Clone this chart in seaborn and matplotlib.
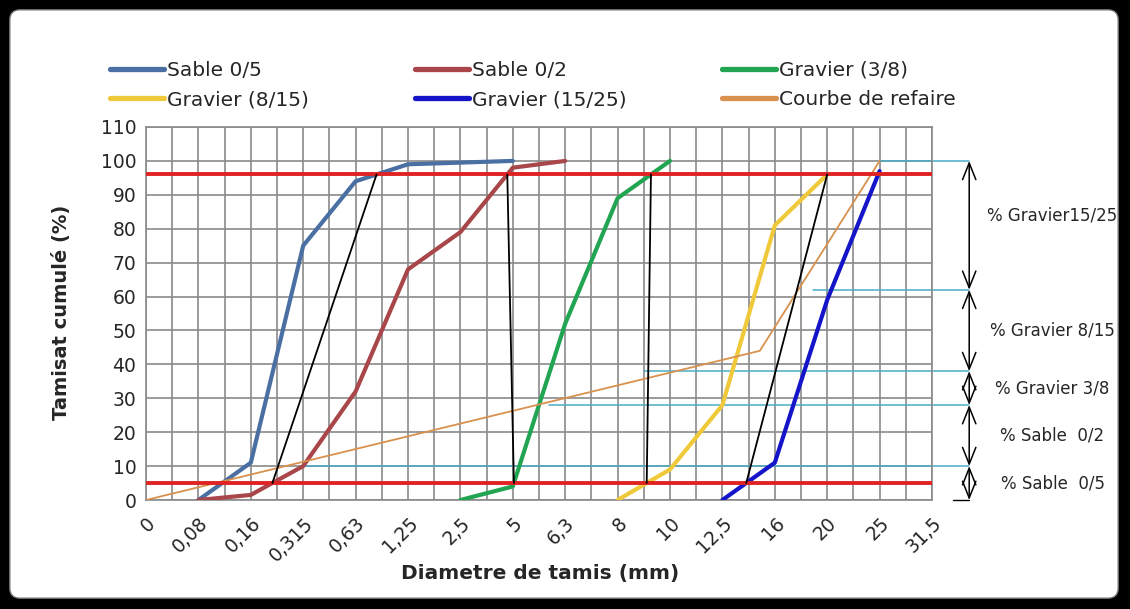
import numpy as np
import pandas as pd
import seaborn as sns
import matplotlib.pyplot as plt
from matplotlib.lines import Line2D
from matplotlib.patches import FancyBboxPatch

# sieve openings (mm) - equally spaced on the x axis
sieves_mm = [0, 0.08, 0.16, 0.315, 0.63, 1.25, 2.5, 5, 6.3, 8, 10, 12.5, 16, 20, 25, 31.5]
sieve_labels = ['0', '0,08', '0,16', '0,315', '0,63', '1,25', '2,5', '5', '6,3',
                '8', '10', '12,5', '16', '20', '25', '31,5']

# cumulative passing (%) per material
sable05_mm = [0.08, 0.16, 0.315, 0.63, 1.25, 2.5, 5]
sable05 = [0, 11, 75, 94, 99, 99.5, 100]
sable02_mm = [0.08, 0.16, 0.315, 0.63, 1.25, 2.5, 5, 6.3]
sable02 = [0, 1.5, 10, 32, 68, 79, 98, 100]
g38_mm = [2.5, 5, 6.3, 8, 10]
g38 = [0, 4, 52, 89, 100]
g815_mm = [8, 10, 12.5, 16, 20]
g815 = [0, 9, 28, 81, 96]
g1525_mm = [12.5, 16, 20, 25]
g1525 = [0, 11, 59, 97]
courbe_mm = [0, 15, 25]
courbe = [0, 44, 100]

limits = [5, 96]
cut_levels = [10, 28, 38, 62, 100]
cut_from_mm = [0.315, 5.9, 9, 18.9, 25]
part_labels = ['% Sable  0/5', '% Sable  0/2', '% Gravier 3/8',
               '% Gravier 8/15', '% Gravier15/25']
part_label_y = [5, 19, 33, 50, 84]

names = ['Sable 0/5', 'Sable 0/2', 'Gravier (3/8)', 'Gravier (8/15)',
         'Gravier (15/25)', 'Courbe de refaire']
colors = {'Sable 0/5': '#4a6fa3', 'Sable 0/2': '#a9464a', 'Gravier (3/8)': '#22a552',
          'Gravier (8/15)': '#f0c93a', 'Gravier (15/25)': '#1414c8',
          'Courbe de refaire': '#d9914e'}
widths = {n: 3.0 for n in names}
widths['Courbe de refaire'] = 1.3


def pos(mm):
    return np.interp(mm, sieves_mm, np.arange(len(sieves_mm)))


def cross(mm, vals, level):
    return float(np.interp(level, vals, pos(mm)))


series = [(sable05_mm, sable05), (sable02_mm, sable02), (g38_mm, g38),
          (g815_mm, g815), (g1525_mm, g1525), (courbe_mm, courbe)]
frames = []
for n, (mm, v) in zip(names, series):
    frames.append(pd.DataFrame({'courbe': n, 'pos': pos(mm), 'tamisat': v}))
df = pd.concat(frames, ignore_index=True)

sns.set_theme(style='white')
plt.rcParams['font.family'] = ['DejaVu Sans']

fig = plt.figure(figsize=(11.3, 6.09), dpi=100, facecolor='black')
bg = FancyBboxPatch((10, 11), 1108, 588, boxstyle='round,pad=0,rounding_size=10',
                    transform=None, fc='white', ec='#9a9a9a', lw=1, zorder=-5)
fig.add_artist(bg)

ax = fig.add_axes([146 / 1130, 1 - 500 / 609, 786 / 1130, 373 / 609])
ax.set_facecolor('white')

grid_c = '#8a8a8a'
ax.set_xlim(0, len(sieves_mm) - 1)
ax.set_ylim(0, 110)
ax.set_xticks(np.arange(len(sieves_mm)))
ax.set_xticks(np.arange(len(sieves_mm) - 1) + 0.5, minor=True)
ax.set_xticklabels(sieve_labels, rotation=45, ha='right', va='top',
                   rotation_mode='anchor', fontsize=13.5)
ax.set_yticks(np.arange(0, 111, 10))
ax.tick_params(axis='y', length=0, pad=7, labelsize=13.5)
ax.tick_params(axis='x', which='major', length=6, width=1.2, color=grid_c, pad=4)
ax.tick_params(axis='x', which='minor', length=0)
ax.grid(which='both', axis='x', color=grid_c, lw=1.2)
ax.grid(which='major', axis='y', color=grid_c, lw=1.2)
ax.set_axisbelow(True)
for s in ax.spines.values():
    s.set_color(grid_c)
    s.set_linewidth(1.2)

# separation guides (cyan) reaching the arrows on the right
arrow_x = 15.71
for lev, mm in zip(cut_levels, cut_from_mm):
    ax.plot([pos(mm), arrow_x], [lev, lev], color='#4bacc6', lw=1.1,
            clip_on=False, zorder=2)
ax.plot([15.4, arrow_x], [0, 0], color='black', lw=1, clip_on=False)

for n in names:
    g = df[df['courbe'] == n]
    sns.lineplot(data=g, x='pos', y='tamisat', color=colors[n], lw=widths[n],
                 sort=False, estimator=None, legend=False, ax=ax, zorder=3)

ax.hlines(limits, 0, len(sieves_mm) - 1, color='#e02222', lw=2.8, zorder=4)

# Dreux lines between consecutive curves
pairs = [(series[0], series[1]), (series[1], series[2]),
         (series[2], series[3]), (series[3], series[4])]
for up, low in pairs:
    x1 = cross(up[0], up[1], limits[1])
    x0 = cross(low[0], low[1], limits[0])
    ax.plot([x0, x1], [limits[0], limits[1]], color='black', lw=1.3, zorder=5)

# arrows and share labels
bounds = [0] + cut_levels
for i, lab in enumerate(part_labels):
    lo, hi = bounds[i], bounds[i + 1]
    ax.annotate('', xy=(arrow_x, lo), xytext=(arrow_x, hi), annotation_clip=False,
                arrowprops=dict(arrowstyle='<->,head_length=1.0,head_width=0.4',
                                color='black', lw=1.1, shrinkA=0, shrinkB=0))
    ax.text(17.3, part_label_y[i], lab, ha='center', va='center', fontsize=12,
            clip_on=False)

ax.set_xlabel('Diametre de tamis (mm)', fontsize=14.5, fontweight='bold')
ax.set_ylabel('Tamisat cumulé (%)', fontsize=14, fontweight='bold', va='center')
ax.xaxis.set_label_coords(0.501, -0.172)
ax.yaxis.set_label_coords(-0.107, 0.504)

# legend: three columns of two rows
order = [[0, 3], [1, 4], [2, 5]]
col_x = [110, 415, 722]
for cx, idx in zip(col_x, order):
    hs = [Line2D([], [], color=colors[names[i]], lw=3.8) for i in idx]
    fig.legend(hs, [names[i] for i in idx], loc='upper left',
               bbox_to_anchor=(cx / 1130, 1 - 61 / 609), frameon=False,
               fontsize=14.5, handlelength=2.7, handletextpad=0.15,
               labelspacing=0.5, borderpad=0, borderaxespad=0)

fig.savefig('out.png', dpi=100, facecolor=fig.get_facecolor())
